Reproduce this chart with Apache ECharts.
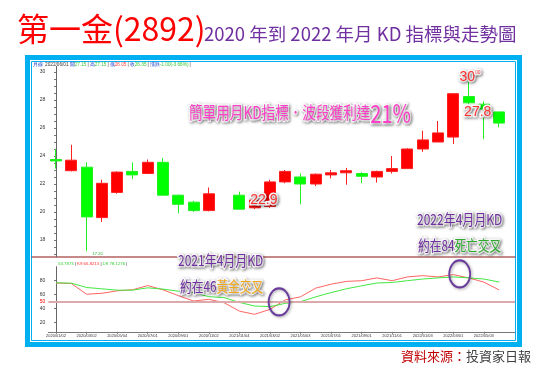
<!DOCTYPE html>
<html><head><meta charset="utf-8">
<script src="https://cdn.jsdelivr.net/npm/echarts@6/dist/echarts.min.js"></script>
<style>html,body{margin:0;padding:0;background:#fff}#c{width:547px;height:372px}</style>
</head><body><div id="c"></div><script>
// ---- data ----
const months = ['2020/01/02','2020/02/03','2020/03/02','2020/04/01','2020/05/04','2020/06/01','2020/07/01','2020/08/03','2020/09/01','2020/10/05','2020/11/02','2020/12/01','2021/01/04','2021/02/01','2021/03/02','2021/04/01','2021/05/03','2021/06/01','2021/07/01','2021/08/02','2021/09/01','2021/10/01','2021/11/01','2021/12/01','2022/01/03','2022/02/07','2022/03/01','2022/04/01','2022/05/03','2022/06/01'];
const openP  = [23.75,22.95,23.2,19.6,21.4,22.9,22.75,23.55,21.2,20.7,20.1,null,21.2,20.3,20.4,22.15,22.5,22.0,22.65,22.8,22.75,22.5,22.9,23.1,24.5,25.0,25.35,28.25,27.7,27.15];
const closeP = [23.65,23.7,19.65,22.05,22.85,22.65,23.55,21.2,20.55,20.1,21.3,null,20.2,20.85,22.15,22.9,22.0,22.7,22.8,22.95,22.55,22.9,23.1,24.5,25.15,25.65,28.45,27.8,27.35,26.35];
const lowP   = [23.1,22.9,17.2,19.3,21.3,22.35,22.7,21.2,19.9,20.0,20.05,null,20.2,20.2,20.3,22.05,20.55,21.85,22.4,21.95,22.05,22.1,22.75,23.1,24.3,25.0,24.85,27.7,25.2,26.05];
const highP  = [24.5,24.8,23.55,22.3,22.9,23.55,23.75,23.85,21.25,20.8,21.75,null,21.45,20.9,22.3,23.0,22.75,22.75,23.0,23.15,22.85,22.95,24.0,24.55,25.8,26.5,28.5,30.0,27.9,27.15];
const kLine  = [76.7,76.0,60.7,62.0,65.5,67.0,73.0,67.0,58.7,51.0,53.4,48.6,36.5,32.0,39.0,52.5,57.0,69.4,75.0,79.0,80.0,84.0,80.0,85.4,87.2,85.4,88.7,84.0,78.0,66.8];
const dLine  = [77.0,76.5,70.3,68.4,66.5,66.5,69.8,68.0,65.0,63.0,57.2,55.8,49.0,43.8,43.0,47.6,50.0,57.0,63.0,68.4,72.7,76.7,77.5,80.0,82.4,84.0,85.4,84.0,82.4,78.1];
const priceTicks = [18,20,22,24,26,28,30];
const kdTicks = [20,40,50,60,80];
const dateLabelIdx = [0,2,4,6,8,10,12,14,16,18,20,22,24,26,28];

// ---- build ----
const CJK = '"Noto Sans CJK TC","Noto Sans CJK SC",sans-serif';
const candleData = [];
months.forEach((m,i)=>{ if(openP[i]!=null) candleData.push([i,openP[i],closeP[i],lowP[i],highP[i]]); });
const priceMinor = []; for(let v=17; v<=30.01; v+=0.5) priceMinor.push(v);

const annLabel = {show:true, position:'inside', fontFamily:'"Liberation Sans",Arial,sans-serif', fontSize:14, color:'#ff3030',
  textBorderColor:'#fff', textBorderWidth:3, textShadowColor:'rgba(0,0,0,0.45)', textShadowBlur:3, textShadowOffsetX:1, textShadowOffsetY:1};
const shadowTxt = {stroke:'#fff', lineWidth:3, textShadowColor:'rgba(0,0,0,0.45)', textShadowBlur:3, textShadowOffsetX:1, textShadowOffsetY:1};
function tok(fill, size){ return Object.assign({fill, fontSize:size, fontFamily:CJK}, shadowTxt); }

const chart = echarts.init(document.getElementById('c'));
chart.setOption({
  animation:false,
  backgroundColor:'#fff',
  grid:[
    {left:48.4, right:32, top:66.4, height:190.4, outerBoundsMode:'none'},
    {left:48.4, right:32, top:266.7, height:65.1, outerBoundsMode:'none'}
  ],
  xAxis:[
    {type:'value', gridIndex:0, min:-0.5, max:30.04, show:false},
    {type:'value', gridIndex:1, min:-0.5, max:30.04,
      axisLine:{show:true, lineStyle:{color:'#777', width:1}},
      axisTick:{show:true, customValues:dateLabelIdx, length:2, lineStyle:{color:'#777'}},
      axisLabel:{customValues:dateLabelIdx, formatter:v=>months[Math.round(v)], fontSize:4, color:'#333', margin:2, fontFamily:'"Liberation Sans",sans-serif'},
      splitLine:{show:false}}
  ],
  yAxis:[
    {type:'value', gridIndex:0, min:16.8, max:30.4,
      axisLine:{show:true, lineStyle:{color:'#666', width:1}},
      axisTick:{show:true, customValues:priceMinor, length:2, lineStyle:{color:'#777'}},
      axisLabel:{customValues:priceTicks, fontSize:5, color:'#333', margin:3, fontFamily:'"Liberation Sans",sans-serif'},
      splitLine:{show:false}},
    {type:'value', gridIndex:1, min:7, max:100,
      axisLine:{show:true, lineStyle:{color:'#666', width:1}},
      axisTick:{show:true, customValues:kdTicks, length:2, lineStyle:{color:'#777'}},
      axisLabel:{customValues:kdTicks, fontSize:5, color:'#333', margin:3, fontFamily:'"Liberation Sans",sans-serif',
        formatter:v=> v===50 ? '{r|50}' : String(v), rich:{r:{color:'#ff0000', fontSize:5}}},
      splitLine:{show:false}}
  ],
  series:[
    {type:'candlestick', xAxisIndex:0, yAxisIndex:0, data:candleData, barWidth:11.5,
      itemStyle:{color:'#ff0000', color0:'#00ff00', borderColor:'#ff2020', borderColor0:'#22f022', borderWidth:1},
      markPoint:{silent:true, symbol:'circle', symbolSize:1, itemStyle:{color:'rgba(0,0,0,0)'}, label:annLabel,
        data:[
          {coord:[13.6,20.86], label:{formatter:()=>closeP[15].toFixed(1)}},
          {coord:[27.1,29.6], label:{formatter:()=>'{a|'+highP[27].toFixed(0)+'}{s|00}',
             rich:{a:{fontSize:14, color:'#ff3030', fontFamily:'"Liberation Sans",sans-serif'}, s:{fontSize:5, color:'#ff5050', verticalAlign:'top'}}}},
          {coord:[27.6,27.14], label:{formatter:()=>closeP[27].toFixed(1)}},
          {coord:[2,17.2], label:{formatter:()=>lowP[2].toFixed(2), offset:[11,3], fontSize:4, color:'#22b022', textBorderWidth:0, textShadowBlur:0, textShadowOffsetX:0, textShadowOffsetY:0}}
        ]}},
    {type:'line', name:'K9', xAxisIndex:1, yAxisIndex:1, data:kLine.map((v,i)=>[i,v]), showSymbol:false, symbol:'none',
      lineStyle:{color:'#ff6464', width:1}, itemStyle:{color:'#ff6464'}, z:3,
      markLine:{silent:true, symbol:'none', label:{show:false}, lineStyle:{color:'#dcaaaa', width:2, type:'solid'}, data:[{yAxis:50}]}},
    {type:'line', name:'D9', xAxisIndex:1, yAxisIndex:1, data:dLine.map((v,i)=>[i,v]), showSymbol:false, symbol:'none',
      lineStyle:{color:'#44e844', width:1}, itemStyle:{color:'#44e844'}, z:3,
      markPoint:{silent:true, symbol:'circle', symbolSize:[21,27], label:{show:false},
        itemStyle:{color:'rgba(0,0,0,0)', borderColor:'#6a3c9c', borderWidth:2, shadowBlur:3, shadowColor:'rgba(0,0,0,0.35)', shadowOffsetX:1, shadowOffsetY:1},
        data:[{coord:[14.6,49.6]},{coord:[26.42,89.6]}]}}
  ],
  graphic:[
    {type:'rect', silent:true, shape:{x:27.5,y:57.5,width:492,height:287}, style:{fill:'none', stroke:'#00b0f0', lineWidth:5}},
    {type:'rect', silent:true, shape:{x:31.5,y:61.5,width:484,height:279}, style:{fill:'none', stroke:'#00b0f0', lineWidth:1}},
    {type:'line', silent:true, shape:{x1:31.5,y1:257,x2:515.5,y2:257}, style:{stroke:'#8b1414', lineWidth:1.2}},
    {type:'text', silent:true, x:17, y:29, z:100, style:{text:'第一金(2892)', fill:'#ff0000', fontSize:32, fontFamily:CJK, verticalAlign:'middle'}},
    {type:'text', silent:true, x:204, y:34, z:100, style:{text:'2020 年到 2022 年月 KD 指標與走勢圖', fill:'#7030a0', fontSize:18.5, fontFamily:CJK, verticalAlign:'middle'}},
    {type:'text', silent:true, x:33, y:64.5, z:100, style:{verticalAlign:'middle', fontSize:4.7, fontFamily:CJK,
      text:'{b|月線}  {k|2022/06/01} {b|開}{g|27.15} {k||} {b|高}{g|27.15} {k||} {b|低}{r|26.05} {k||} {b|收}{g|26.35} {k||} {b|漲跌}{g|-1.00(-3.66%)} {k||}',
      rich:{b:{fill:'#1a3cc8',fontSize:4.7},k:{fill:'#333',fontSize:4.7},g:{fill:'#33cc33',fontSize:4.7},r:{fill:'#ff4444',fontSize:4.7}}}},
    {type:'text', silent:true, x:58, y:263.5, z:100, style:{verticalAlign:'middle', fontSize:4.4, fontFamily:CJK,
      text:'{g|53.7875} {k||} {r|K9 66.8215} {k||} {g|D9 78.1276} {k||}',
      rich:{g:{fill:'#33cc33',fontSize:4.4},r:{fill:'#ff3333',fontSize:4.4},k:{fill:'#333',fontSize:4.4}}}},
    {type:'text', silent:true, x:189, y:113, scaleX:0.8, z:100, style:{verticalAlign:'middle',
      text:'{m|簡單用月KD指標．波段獲利達}{n|21%}', rich:{m:tok('#ff3fc8',17), n:tok('#ff3fc8',25)}}},
    {type:'text', silent:true, x:178, y:260, scaleX:0.8, z:100, style:{verticalAlign:'middle',
      text:'{p|2021年4月月KD}', rich:{p:tok('#7030a0',15)}}},
    {type:'text', silent:true, x:180, y:286, scaleX:0.78, z:100, style:{verticalAlign:'middle',
      text:'{p|約在46}{o|黃金交叉}', rich:{p:tok('#7030a0',15), o:tok('#f2a81d',15)}}},
    {type:'text', silent:true, x:417, y:219, scaleX:0.8, z:100, style:{verticalAlign:'middle',
      text:'{p|2022年4月月KD}', rich:{p:tok('#7030a0',15)}}},
    {type:'text', silent:true, x:418, y:245, scaleX:0.78, z:100, style:{verticalAlign:'middle',
      text:'{p|約在84}{o|死亡交叉}', rich:{p:tok('#7030a0',15), o:tok('#2faa2f',15)}}},
    {type:'text', silent:true, x:531, y:356, z:100, style:{align:'right', verticalAlign:'middle',
      text:'{a|資料來源：}{b|投資家日報}', rich:{a:{fill:'#c00000',fontSize:13,fontFamily:CJK}, b:{fill:'#404040',fontSize:13,fontFamily:CJK}}}}
  ]
});
</script></body></html>
